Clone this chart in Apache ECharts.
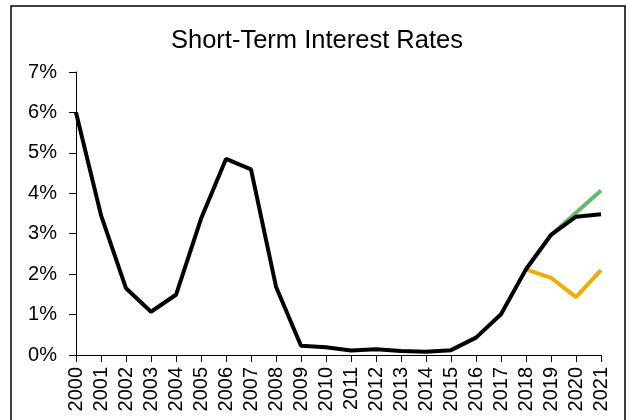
<!DOCTYPE html>
<html>
<head>
<meta charset="utf-8">
<script src="https://cdn.jsdelivr.net/npm/echarts@6/dist/echarts.min.js"></script>
<style>
html,body{margin:0;padding:0;background:#fff;}
#chart{width:626px;height:420px;}
</style>
</head>
<body>
<div id="chart"></div>
<script>
const years = ['2000','2001','2002','2003','2004','2005','2006','2007','2008','2009','2010',
  '2011','2012','2013','2014','2015','2016','2017','2018','2019','2020','2021'];
const shortRate = [6.00, 3.46, 1.65, 1.07, 1.49, 3.37, 4.85, 4.59, 1.69, 0.23, 0.19,
  0.11, 0.14, 0.10, 0.08, 0.12, 0.43, 1.01, 2.12, 2.97, 3.42, 3.48];
const highPath = [null, null, null, null, null, null, null, null, null, null, null,
  null, null, null, null, null, null, null, 2.12, 2.97, 3.52, 4.07];
const lowPath = [null, null, null, null, null, null, null, null, null, null, null,
  null, null, null, null, null, null, null, 2.12, 1.91, 1.43, 2.10];
const yTicks = [0, 1, 2, 3, 4, 5, 6, 7];

const FONT = '"Liberation Sans", Arial, sans-serif';
const chart = echarts.init(document.getElementById('chart'), null, {renderer: 'canvas'});
chart.setOption({
  animation: false,
  backgroundColor: '#ffffff',
  title: {
    text: 'Short-Term Interest Rates',
    left: 171,
    top: 28,
    padding: 0,
    textStyle: {fontFamily: FONT, fontSize: 25.5, fontWeight: 'normal', color: '#000'}
  },
  graphic: [{
    type: 'rect',
    shape: {x: 11, y: 6, width: 614, height: 430},
    style: {fill: 'none', stroke: '#000', lineWidth: 1.5},
    silent: true
  }],
  grid: {left: 76, right: 25, top: 72, bottom: 65, containLabel: false},
  xAxis: {
    type: 'category',
    data: years,
    boundaryGap: false,
    axisLine: {show: true, lineStyle: {color: '#000', width: 1}},
    axisTick: {show: true, inside: false, length: 7, alignWithLabel: true, lineStyle: {color: '#000'}},
    axisLabel: {rotate: 90, interval: 0, margin: 12, fontFamily: FONT, fontSize: 20, color: '#000'},
    splitLine: {show: false}
  },
  yAxis: {
    type: 'value',
    min: yTicks[0],
    max: yTicks[yTicks.length - 1],
    interval: 1,
    axisLine: {show: true, lineStyle: {color: '#000', width: 1}},
    axisTick: {show: true, inside: false, length: 7, lineStyle: {color: '#000'}},
    axisLabel: {formatter: '{value}%', margin: 19, fontFamily: FONT, fontSize: 20, color: '#000'},
    splitLine: {show: false}
  },
  series: [
    {name: 'High', type: 'line', data: highPath, showSymbol: false, symbol: 'none',
     lineStyle: {color: '#66b966', width: 4}, z: 2},
    {name: 'Low', type: 'line', data: lowPath, showSymbol: false, symbol: 'none',
     lineStyle: {color: '#f2ae00', width: 4}, z: 2},
    {name: 'Short-Term Rate', type: 'line', data: shortRate, showSymbol: false, symbol: 'none',
     lineStyle: {color: '#000', width: 4}, z: 3}
  ]
});
</script>
</body>
</html>
